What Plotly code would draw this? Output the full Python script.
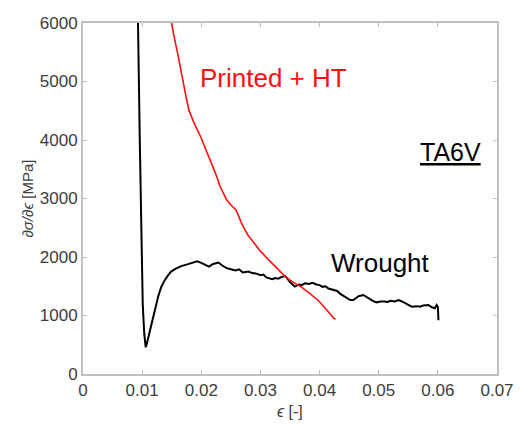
import plotly.graph_objects as go

# Tangent modulus dσ/dε vs strain for TA6V
wrought_eps = [0.00915, 0.0093, 0.0096, 0.00985, 0.0101, 0.01035, 0.0105, 0.0106,
               0.0108, 0.0111, 0.0116, 0.0121, 0.0127, 0.0132, 0.0138, 0.0144, 0.0149,
               0.0157, 0.0166, 0.0175, 0.0185, 0.0193, 0.0200, 0.0207, 0.0213, 0.0220,
               0.0229, 0.0236, 0.0243, 0.0250, 0.0258, 0.0264, 0.0270, 0.0280, 0.0286,
               0.0292, 0.0300, 0.0305, 0.0310, 0.0320, 0.0325, 0.0330, 0.0336, 0.0342,
               0.0350, 0.0358, 0.0365, 0.0370, 0.0375, 0.0382, 0.0388, 0.0395, 0.0400,
               0.0405, 0.0410, 0.0415, 0.0424, 0.0430, 0.0435, 0.0440, 0.0445, 0.0452,
               0.0457, 0.0462, 0.0466, 0.0474, 0.0480, 0.0485, 0.0490, 0.0496, 0.0503,
               0.0510, 0.0515, 0.0520, 0.0527, 0.0534, 0.0540, 0.0545, 0.0550, 0.0556,
               0.0565, 0.0570, 0.0575, 0.0584, 0.0590, 0.0595, 0.0598, 0.0600, 0.0601]
wrought_mod = [6600, 6000, 4000, 2300, 1200, 700, 500, 456,
               520, 650, 870, 1100, 1320, 1480, 1600, 1690, 1750,
               1800, 1845, 1870, 1900, 1925, 1900, 1870, 1835, 1880,
               1905, 1850, 1810, 1790, 1770, 1790, 1735, 1750, 1725,
               1720, 1690, 1700, 1650, 1620, 1640, 1630, 1660, 1675,
               1570, 1495, 1530, 1520, 1550, 1540, 1560, 1530, 1520,
               1490, 1500, 1460, 1436, 1420, 1370, 1340, 1310, 1265,
               1265, 1300, 1330, 1350, 1310, 1280, 1250, 1225, 1240,
               1240, 1230, 1250, 1240, 1265, 1240, 1210, 1180, 1150,
               1160, 1150, 1170, 1180, 1140, 1123, 1180, 1150, 920]

printed_eps = [0.0142, 0.0149, 0.0155, 0.0160, 0.0168, 0.0174, 0.0179, 0.0188, 0.0199, 0.0207,
               0.0215, 0.0224, 0.0232, 0.0243, 0.0251, 0.0259, 0.0268, 0.0279, 0.0287, 0.0300,
               0.0314, 0.0328, 0.0342, 0.0355, 0.0369, 0.0383, 0.0397, 0.0410, 0.0420, 0.0424,
               0.0427]
printed_mod = [6400, 6000, 5720, 5480, 5030, 4750, 4510, 4285, 4056, 3860,
               3660, 3430, 3200, 2975, 2880, 2800, 2580, 2370, 2270, 2100,
               1950, 1800, 1665, 1570, 1490, 1380, 1265, 1120, 1010, 952,
               940]

x_ticks = [0, 0.01, 0.02, 0.03, 0.04, 0.05, 0.06, 0.07]
x_labels = ["0", "0.01", "0.02", "0.03", "0.04", "0.05", "0.06", "0.07"]
y_ticks = [0, 1000, 2000, 3000, 4000, 5000, 6000]

AXIS = "#c0c0c0"
TXT = "#3c3c3c"
FONT = "Liberation Sans, Arial, sans-serif"

fig = go.Figure()
fig.add_trace(go.Scatter(x=wrought_eps, y=wrought_mod, mode="lines",
                         line=dict(color="black", width=2), showlegend=False))
fig.add_trace(go.Scatter(x=printed_eps, y=printed_mod, mode="lines",
                         line=dict(color="#ff1010", width=1.6), showlegend=False))

axis_common = dict(showline=True, linecolor=AXIS, linewidth=2, mirror="ticks",
                   ticks="inside", ticklen=4, tickcolor=AXIS, tickwidth=1,
                   showgrid=False, zeroline=False,
                   tickfont=dict(family=FONT, size=17, color=TXT))

fig.update_xaxes(range=[0, 0.07], tickvals=x_ticks, ticktext=x_labels, **axis_common)
fig.update_yaxes(range=[0, 6000], tickvals=y_ticks, **axis_common)

fig.add_annotation(x=0.0322, y=5060, text="Printed + HT", showarrow=False,
                   font=dict(family=FONT, size=26, color="#ff1010"))
fig.add_annotation(x=0.0503, y=1897, text="Wrought", showarrow=False,
                   font=dict(family=FONT, size=26, color="black"))
fig.add_annotation(x=0.0622, y=3795, text="<u>TA6V</u>", showarrow=False,
                   font=dict(family=FONT, size=25, color="black"))

# axis titles
fig.add_annotation(xref="paper", yref="paper", x=0.5, y=-0.077, yanchor="top",
                   text="<i>ϵ</i> [-]", showarrow=False,
                   font=dict(family=FONT, size=16, color=TXT))
fig.add_annotation(xref="paper", yref="paper", x=-0.135, y=0.5, xanchor="center",
                   text="<i>∂σ/∂ϵ</i> [MPa]", textangle=-90, showarrow=False,
                   font=dict(family=FONT, size=15, color=TXT))

fig.update_layout(width=526, height=428,
                  margin=dict(l=83, r=19, t=23, b=54),
                  paper_bgcolor="white", plot_bgcolor="white")

fig.write_html("out.html")
